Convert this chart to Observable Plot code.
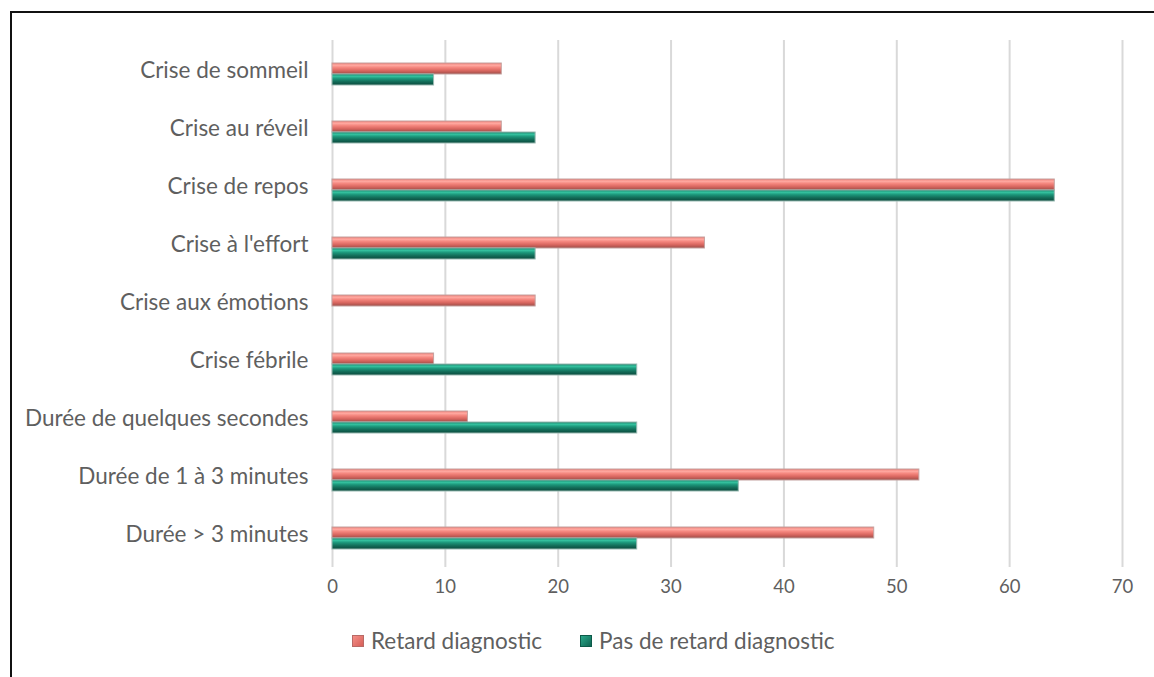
<!DOCTYPE html>
<html>
<head>
<meta charset="utf-8">
<script src="https://cdn.jsdelivr.net/npm/d3@7"></script>
<script src="https://cdn.jsdelivr.net/npm/@observablehq/plot@0.6"></script>
<style>
  body { margin: 0; background: #fff; font-family: Lato, "Open Sans", sans-serif; }
  #wrap { position: relative; width: 1154px; height: 677px; overflow: hidden; }
  #frame { position: absolute; left: 10px; top: 11px; width: 1200px; height: 700px;
           border-left: 2px solid #111; border-top: 2px solid #111; box-sizing: border-box; }
  #chart { position: absolute; left: 0; top: 0; }
  #legend { position: absolute; left: 352px; top: 627px; display: flex; gap: 38px;
            font-size: 22.5px; color: #5f5f5f; align-items: center; }
  .item { display: flex; align-items: center; gap: 7px; }
  .sw { width: 12px; height: 12px; display: inline-block; box-sizing: border-box; }
</style>
</head>
<body>
<div id="wrap">
  <div id="frame"></div>
  <div id="chart"></div>
  <div id="legend"></div>
</div>
<script>
const categories = [
  "Crise de sommeil",
  "Crise au réveil",
  "Crise de repos",
  "Crise à l'effort",
  "Crise aux émotions",
  "Crise fébrile",
  "Durée de quelques secondes",
  "Durée de 1 à 3 minutes",
  "Durée > 3 minutes"
];
const seriesNames = ["Retard diagnostic", "Pas de retard diagnostic"];
const retard =    [15, 15, 64, 33, 18, 9, 12, 52, 48];
const pasRetard = [9, 18, 64, 18, 0, 27, 27, 36, 27];
const xTicks = [0, 10, 20, 30, 40, 50, 60, 70];

const dataRetard = categories.map((c, i) => ({category: c, value: retard[i]}));
const dataPas = categories.map((c, i) => ({category: c, value: pasRetard[i]}));

const chart = Plot.plot({
  width: 1154,
  height: 615,
  marginLeft: 332,
  marginRight: 32,
  marginTop: 45,
  marginBottom: 48,
  style: { fontFamily: "Lato, 'Open Sans', sans-serif", color: "#5f5f5f", background: "transparent" },
  x: { domain: [0, 70], ticks: xTicks, label: null },
  y: { domain: categories, paddingInner: 0.62, paddingOuter: 0.31, label: null },
  marks: [
    Plot.gridX(xTicks, { stroke: "#d9d9d9", strokeOpacity: 1, strokeWidth: 2, insetTop: -5 }),
    Plot.barX(dataRetard.filter(d => d.value > 0), {
      x: "value", y: "category", insetBottom: 11,
      fill: "url(#gradRed)", stroke: "#c4a19f", strokeWidth: 1
    }),
    Plot.barX(dataPas.filter(d => d.value > 0), {
      x: "value", y: "category", insetTop: 11,
      fill: "url(#gradTeal)", stroke: "#98b9b1", strokeWidth: 1
    }),
    Plot.axisX({ ticks: xTicks, tickSize: 0, tickPadding: 12, fill: "#5f5f5f", fontSize: 18.5, label: null }),
    Plot.axisY({ tickSize: 0, tickPadding: 24, fill: "#5f5f5f", fontSize: 22.5, label: null, dy: -4 })
  ]
});

const svg = d3.select(chart);
const defs = svg.insert("defs", ":first-child");
function grad(id, stops) {
  const g = defs.append("linearGradient").attr("id", id)
    .attr("x1", 0).attr("y1", 0).attr("x2", 0).attr("y2", 1);
  stops.forEach(([o, c]) => g.append("stop").attr("offset", o).attr("stop-color", c));
}
grad("gradRed", [[0, "#ee7870"], [0.2, "#ffaaa2"], [0.42, "#f4857d"], [0.7, "#d8665f"], [1, "#9c4e49"]]);
grad("gradTeal", [[0, "#147a62"], [0.2, "#36c4a1"], [0.42, "#1c967a"], [0.7, "#136c58"], [1, "#0a4a3c"]]);

document.getElementById("chart").appendChild(chart);

const legend = document.getElementById("legend");
seriesNames.forEach((name, i) => {
  const item = document.createElement("div");
  item.className = "item";
  const sw = document.createElement("span");
  sw.className = "sw";
  sw.style.background = i === 0
    ? "linear-gradient(135deg, #f58f88, #d65f58)"
    : "linear-gradient(135deg, #2aa88a, #0f6653)";
  sw.style.border = i === 0 ? "1px solid #b86a66" : "1px solid #0d5a49";
  const t = document.createElement("span");
  t.textContent = name;
  item.appendChild(sw);
  item.appendChild(t);
  legend.appendChild(item);
});
</script>
</body>
</html>
